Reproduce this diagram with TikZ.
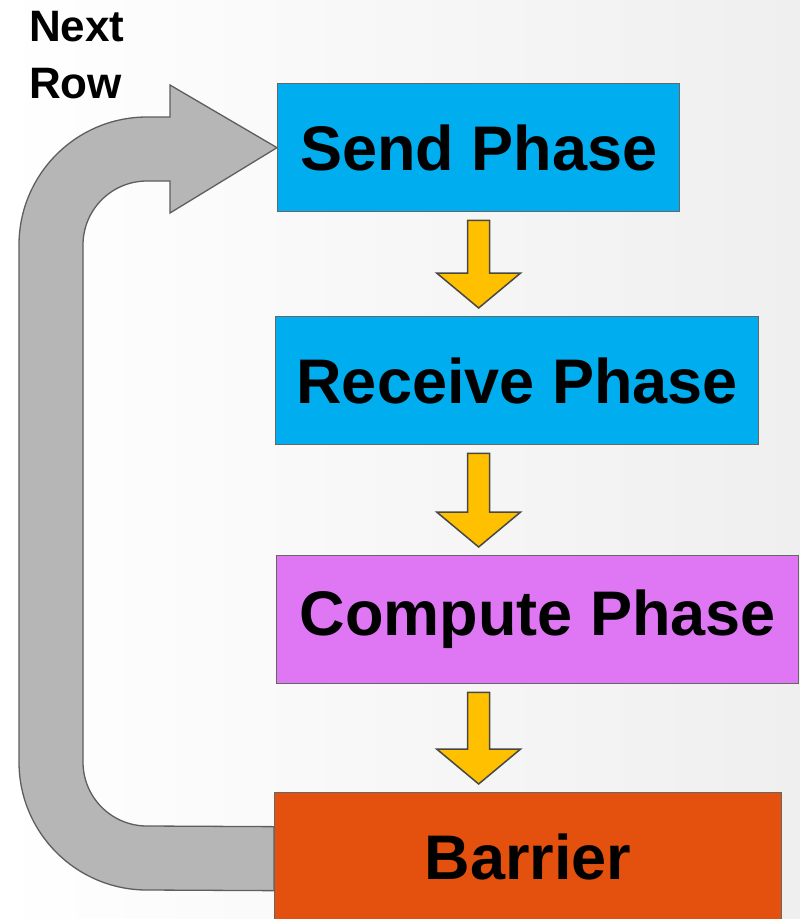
\documentclass[tikz,border=0pt]{standalone}
\usepackage{fontspec}
\setmainfont{Liberation Sans}
\usetikzlibrary{calc}

\definecolor{phaseblue}{HTML}{00AEEF}
\definecolor{phaseviolet}{HTML}{DF76F4}
\definecolor{barrierorange}{HTML}{E4500E}
\definecolor{arrowyellow}{HTML}{FFC000}
\definecolor{arrowedge}{HTML}{474747}
\definecolor{boxedge}{HTML}{666666}
\definecolor{loopgray}{HTML}{B6B6B6}
\definecolor{loopedge}{HTML}{5E5E5E}
\definecolor{bggray}{HTML}{EFEFEF}

\pgfdeclarelayer{back}
\pgfsetlayers{back,main}

% downward block arrow between two stacked boxes, centred under the first box
\newcommand\flowarrow[2]{%
  \draw[blockarrow] let \p1=($(send.south |- #1)+(0,-8)$), \p2=($(send.south |- #2)+(0,8)$) in
    (\x1-11pt,\y1) -- (\x1+11pt,\y1) -- (\x1+11pt,\y2+35pt) -- (\x1+42pt,\y2+35pt)
    -- (\x1,\y2) -- (\x1-42pt,\y2+35pt) -- (\x1-11pt,\y2+35pt) -- cycle;}

\begin{document}
\begin{tikzpicture}[x=1pt,y=1pt,
  phasebox/.style={draw=boxedge, line width=1.3pt, inner sep=0pt, anchor=north west,
    minimum height=128pt, font=\fontsize{63}{70}\selectfont\bfseries},
  blockarrow/.style={fill=arrowyellow, draw=arrowedge, line width=1.5pt, line join=miter},
  loopband/.style={fill=loopgray, draw=loopedge, line width=1.3pt}]
\useasboundingbox (0,0) rectangle (800,-919);

% phase boxes
\node[phasebox, fill=phaseblue, minimum width=402pt] (send) at (277,-83) {Send Phase};
\node[phasebox, fill=phaseblue, minimum width=483pt] (recv) at (275,-316) {Receive Phase};
\node[phasebox, fill=phaseviolet, minimum width=522pt] (comp) at (276,-555) {Compute Phase};
\node[phasebox, fill=barrierorange, minimum width=507pt] (barrier) at (274,-792) {Barrier};

% label of the loop
\node[anchor=north west, inner sep=0pt, align=left,
  font=\fontsize{44}{57}\selectfont\bfseries] (nextrow) at (29,-11.5)
  {Next\\Row};

% flow arrows
\flowarrow{send.south}{recv.north}
\flowarrow{recv.south}{comp.north}
\flowarrow{comp.south}{barrier.north}

\begin{pgfonlayer}{back}
  % page background
  \shade[left color=white, right color=bggray] (0,0) rectangle (800,-919);
  % loop back from the barrier to the send phase
  \draw[loopband] ($(barrier.west)+(0,30)$) -- (147,-826)
    arc[start angle=270, end angle=180, radius=64] -- (83,-245)
    arc[start angle=180, end angle=90, radius=64] -- (170,-181) -- (170,-213)
    -- (send.west) -- (170,-85) -- (170,-117) -- (147,-117)
    arc[start angle=90, end angle=180, radius=128] -- (19,-762)
    arc[start angle=180, end angle=270, radius=128]
    -- ($(barrier.west)+(0,-34)$) -- cycle;
\end{pgfonlayer}
\end{tikzpicture}
\end{document}
